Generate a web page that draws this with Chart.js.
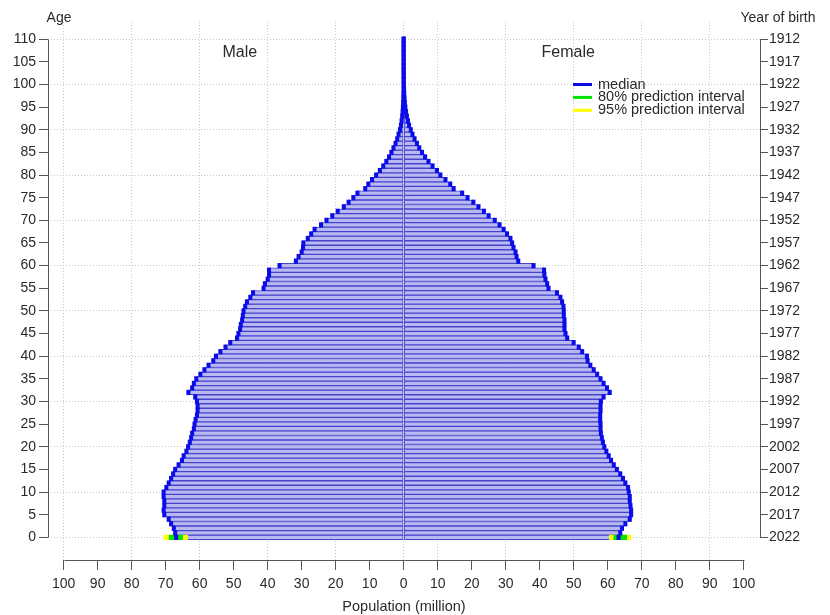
<!DOCTYPE html>
<html><head><meta charset="utf-8">
<script src="https://cdn.jsdelivr.net/npm/chart.js@4"></script>
<style>html,body{margin:0;padding:0;background:#fff}#wrap{width:830px;height:615px}</style>
</head><body><div id="wrap"><canvas id="c" width="830" height="615"></canvas></div>
<script>
// Age categories 0..110
const ages = [0,1,2,3,4,5,6,7,8,9,10,11,12,13,14,15,16,17,18,19,20,21,22,23,24,25,26,27,28,29,30,31,32,33,34,35,36,37,38,39,40,41,42,43,44,45,46,47,48,49,50,51,52,53,54,55,56,57,58,59,60,61,62,63,64,65,66,67,68,69,70,71,72,73,74,75,76,77,78,79,80,81,82,83,84,85,86,87,88,89,90,91,92,93,94,95,96,97,98,99,100,101,102,103,104,105,106,107,108,109,110];
// Median population (million) by single age
const male = [66.9,67.2,67.6,68.4,69.1,70.4,70.6,70.4,70.4,70.6,
70.6,69.8,69.1,68.4,67.8,67.2,66.2,65.2,64.7,63.9,
63.4,62.9,62.5,62.2,61.7,61.5,61.2,60.8,60.6,60.6,
60.8,61.3,63.3,62.2,61.7,61.0,59.8,58.6,57.4,56.0,
55.2,53.9,52.4,51.0,49.0,48.6,48.1,47.9,47.5,47.3,
47.1,46.6,46.1,45.1,44.3,41.2,40.8,40.0,39.6,39.6,
36.5,31.7,30.9,30.0,29.6,29.5,28.2,27.2,26.2,24.3,
22.7,21.0,19.4,17.6,16.2,14.8,13.6,11.3,10.4,9.3,
8.1,7.0,6.0,5.1,4.3,3.6,3.0,2.4,1.9,1.5,
1.1,0.8,0.6,0.43,0.31,0.22,0.15,0.1,0.07,0.045,
0.03,0.02,0.015,0.01,0.007,0.005,0.003,0.002,0.001,0.001,0.001];
const female = [63.2,63.7,64.2,65.2,66.5,66.9,66.9,66.7,66.5,66.5,
66.2,66.0,65.2,64.5,63.7,62.7,61.8,61.0,60.3,59.6,
59.0,58.6,58.3,58.0,57.9,57.9,57.8,57.8,57.9,57.9,
58.0,58.8,60.6,59.8,58.8,57.9,56.9,55.9,54.9,54.1,
53.9,52.5,51.5,50.0,48.1,47.6,47.3,47.3,47.3,47.1,
47.1,47.0,46.6,46.1,45.1,42.6,42.2,41.7,41.4,41.3,
38.2,33.7,33.2,32.9,32.3,31.9,31.4,30.4,29.4,28.2,
26.8,25.0,23.6,22.0,20.5,18.8,17.2,14.7,13.7,12.3,
10.8,9.8,8.5,7.3,6.3,5.4,4.6,3.9,3.2,2.6,
2.1,1.6,1.25,0.95,0.7,0.5,0.36,0.25,0.17,0.11,
0.07,0.045,0.03,0.02,0.012,0.008,0.005,0.003,0.002,0.001,0.001];
// Prediction intervals at age 0 [low, high]
const male80 = [65.0, 69.0];
const male95 = [63.5, 70.5];
const female80 = [61.8, 65.6];
const female95 = [60.5, 66.8];
// Tick values
const popTicks = [-100,-90,-80,-70,-60,-50,-40,-30,-20,-10,0,10,20,30,40,50,60,70,80,90,100];
const popGrid = [-100,-80,-60,-40,-20,0,10,30,50,70,90];
const ageTicks = [0,5,10,15,20,25,30,35,40,45,50,55,60,65,70,75,80,85,90,95,100,105,110];
const refYear = 2022;
const legendLabels = ['median','80% prediction interval','95% prediction interval'];

const FONT = "'Liberation Sans', Arial, Helvetica, sans-serif";
Chart.defaults.font.family = FONT;
Chart.defaults.color = '#2a2a2a';

const C_MED = '#0c0ce8', C_80 = '#00e400', C_95 = '#ffff00';
const C_FILL = '#b8b8f2', C_EDGE = '#4444cc';
const TXT = '#2a2a2a', AX = '#555555';

const overlay = {
  id: 'overlay',
  afterDraw(chart) {
    const {ctx, chartArea: a, scales: {x, y}} = chart;
    ctx.save();
    ctx.strokeStyle = AX; ctx.lineWidth = 1;
    const lx = Math.round(a.left) + 0.5, rx = Math.round(a.right) + 0.5, by = Math.round(a.bottom) + 0.5;
    const yTop = Math.round(y.getPixelForValue(ageTicks[ageTicks.length - 1])) + 0.5;
    const yBot = Math.round(y.getPixelForValue(ageTicks[0])) + 0.5;
    ctx.beginPath();
    ctx.moveTo(lx, yTop); ctx.lineTo(lx, yBot);
    ctx.moveTo(rx, yTop); ctx.lineTo(rx, yBot);
    ctx.moveTo(Math.round(x.getPixelForValue(popTicks[0])) + 0.5, by);
    ctx.lineTo(Math.round(x.getPixelForValue(popTicks[popTicks.length - 1])) + 0.5, by);
    ctx.stroke();

    ctx.fillStyle = TXT;
    ctx.textBaseline = 'middle';
    ctx.font = '14px ' + FONT;
    ctx.textAlign = 'center';
    ctx.fillText('Age', 59, 18);
    ctx.fillText('Year of birth', 778, 18);
    ctx.font = '16px ' + FONT;
    ctx.fillText('Male', x.getPixelForValue(-48.2), y.getPixelForValue(107));
    ctx.fillText('Female', x.getPixelForValue(48.4), y.getPixelForValue(107));

    // legend
    const cols = [C_MED, C_80, C_95];
    ctx.font = '14.5px ' + FONT;
    ctx.textAlign = 'left';
    for (let i = 0; i < 3; i++) {
      const ly = 84.5 + i * 12.9;
      ctx.strokeStyle = cols[i]; ctx.lineWidth = 3;
      ctx.beginPath(); ctx.moveTo(573, ly); ctx.lineTo(592, ly); ctx.stroke();
      ctx.fillStyle = TXT;
      ctx.fillText(legendLabels[i], 598, ly);
    }
    ctx.restore();
  }
};

const medData = [];
male.forEach((m, i) => medData.push({x: [-m - 0.5, -m + 0.5], y: ages[i]}));
female.forEach((f, i) => medData.push({x: [f - 0.5, f + 0.5], y: ages[i]}));

new Chart(document.getElementById('c'), {
  type: 'bar',
  data: {
    datasets: [
      {label: legendLabels[0], data: medData, backgroundColor: C_MED, borderWidth: 0, order: 0},
      {label: legendLabels[1], data: [{x: [-male80[1], -male80[0]], y: 0}, {x: [female80[0], female80[1]], y: 0}], backgroundColor: C_80, borderWidth: 0, order: 1},
      {label: legendLabels[2], data: [{x: [-male95[1], -male95[0]], y: 0}, {x: [female95[0], female95[1]], y: 0}], backgroundColor: C_95, borderWidth: 0, order: 2},
      {label: 'Male', data: male.map((m, i) => ({x: [-m, 0], y: ages[i]})), backgroundColor: C_FILL, borderColor: C_EDGE, borderWidth: 1, borderSkipped: false, order: 3},
      {label: 'Female', data: female.map((f, i) => ({x: [0, f], y: ages[i]})), backgroundColor: C_FILL, borderColor: C_EDGE, borderWidth: 1, borderSkipped: false, order: 3}
    ]
  },
  options: {
    animation: false, responsive: false, indexAxis: 'y',
    layout: {padding: {top: 22, left: 0, right: 0, bottom: 0}},
    datasets: {bar: {grouped: false, barPercentage: 1, categoryPercentage: 1}},
    plugins: {legend: {display: false}, tooltip: {enabled: false}},
    scales: {
      x: {
        type: 'linear', min: -104.6, max: 104.8, offset: false,
        afterBuildTicks: s => { s.ticks = popTicks.map(v => ({value: v})); },
        afterFit: s => { s.height = 55; },
        ticks: {callback: v => Math.abs(v), font: {size: 14}, padding: 6, maxRotation: 0, autoSkip: false, color: TXT},
        grid: {offset: false, color: c => popGrid.includes(c.tick && c.tick.value) ? '#c8c8c8' : 'rgba(0,0,0,0)', tickColor: AX, tickLength: 10, lineWidth: 1},
        border: {display: false, dash: [1, 2]},
        title: {display: true, text: 'Population (million)', font: {size: 14.5}, padding: {top: 0, bottom: -1}, color: TXT}
      },
      y: {
        type: 'linear', position: 'left', min: -5, max: 113.8, offset: false,
        afterBuildTicks: s => { s.ticks = ageTicks.map(v => ({value: v})); },
        afterFit: s => { s.width = 48; },
        ticks: {font: {size: 14}, padding: 3, autoSkip: false, color: TXT},
        grid: {offset: false, color: c => (c.tick && c.tick.value % 10 === 0) ? '#c8c8c8' : 'rgba(0,0,0,0)', tickColor: AX, tickLength: 9, lineWidth: 1},
        border: {display: false, dash: [1, 2]}
      },
      y2: {
        type: 'linear', position: 'right', min: -5, max: 113.8, offset: false,
        afterBuildTicks: s => { s.ticks = ageTicks.map(v => ({value: v})); },
        afterFit: s => { s.width = 70; },
        ticks: {callback: v => refYear - v, font: {size: 14}, padding: 1, autoSkip: false, color: TXT},
        grid: {offset: false, drawOnChartArea: false, tickColor: AX, tickLength: 8},
        border: {display: false}
      }
    }
  },
  plugins: [overlay]
});
</script>
</body></html>
